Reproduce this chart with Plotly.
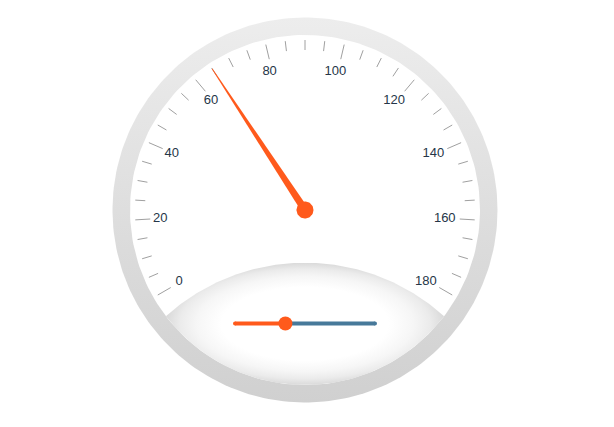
import numpy as np
import plotly.graph_objects as go

# gauge data
scale_min = 0
scale_max = 180
major_unit = 20
minor_unit = 5
needle_value = 65

# small linear gauge in the bottom dial
linear_min = 0
linear_max = 100
linear_value = 36

ORANGE = "#ff5a1c"
BLUE = "#47799a"
TEXT = "#253648"
TICK = "#a0a0a0"

start_angle = 210   # degrees, value = scale_min
sweep = 240


def angle(v):
    return np.radians(start_angle - (v - scale_min) / (scale_max - scale_min) * sweep)


def circle(r, cx=0, cy=0, a0=0, a1=2 * np.pi, n=240):
    t = np.linspace(a0, a1, n)
    return cx + r * np.cos(t), cy + r * np.sin(t)


fig = go.Figure()

# outer ring
x, y = circle(192.5)
fig.add_trace(go.Scatter(x=x, y=y, fill="toself", mode="lines", line=dict(width=0),
                         fillgradient=dict(type="vertical",
                                           colorscale=[[0, "#d0d0d0"], [0.5, "#dedede"], [1, "#ededed"]]),
                         hoverinfo="skip"))
# dial face
x, y = circle(175)
fig.add_trace(go.Scatter(x=x, y=y, fill="toself", mode="lines", line=dict(width=0),
                         fillcolor="white", hoverinfo="skip"))

# lens-shaped bottom area: top arc of a big circle + bottom arc of the face
R_lens, cy_lens = 207.6, -260.3
yi = (cy_lens ** 2 - R_lens ** 2 + 175 ** 2) / (2 * cy_lens)
xi = np.sqrt(175 ** 2 - yi ** 2)
a_top = np.arctan2(yi - cy_lens, xi)
x1, y1 = circle(R_lens, 0, cy_lens, a_top, np.pi - a_top, 120)
a_face = np.arctan2(yi, -xi)
x2, y2 = circle(175, 0, 0, a_face, -np.pi - a_face, 120)
fig.add_trace(go.Scatter(x=np.r_[x1, x2], y=np.r_[y1, y2], fill="toself", mode="lines",
                         line=dict(width=0),
                         fillgradient=dict(type="radial",
                                           colorscale=[[0, "#ffffff"], [0.6, "#ffffff"],
                                                       [0.78, "#f6f6f6"], [0.9, "#ebebeb"],
                                                       [1, "#dadada"]]),
                         hoverinfo="skip"))

# ticks
tx, ty = [], []
for v in np.arange(scale_min, scale_max + minor_unit, minor_unit):
    a = angle(v)
    r0 = 155 if v % major_unit == 0 else 160
    tx += [r0 * np.cos(a), 170 * np.cos(a), None]
    ty += [r0 * np.sin(a), 170 * np.sin(a), None]
fig.add_trace(go.Scatter(x=tx, y=ty, mode="lines", line=dict(color=TICK, width=1), hoverinfo="skip"))

# labels
labels = list(range(scale_min, scale_max + 1, major_unit))
la = angle(np.array(labels))
fig.add_trace(go.Scatter(x=142.5 * np.cos(la) - 2.5, y=142.5 * np.sin(la), mode="text",
                         text=[str(v) for v in labels],
                         textfont=dict(family="Liberation Sans, Arial", size=13, color=TEXT),
                         hoverinfo="skip"))

# needle
a = angle(needle_value)
tip = 169
w = 3.8
px, py = -np.sin(a), np.cos(a)
nx = [tip * np.cos(a) + 0.4 * px, w * px, -w * px, tip * np.cos(a) - 0.4 * px]
ny = [tip * np.sin(a) + 0.4 * py, w * py, -w * py, tip * np.sin(a) - 0.4 * py]
fig.add_trace(go.Scatter(x=nx, y=ny, fill="toself", mode="lines", line=dict(width=0),
                         fillcolor=ORANGE, hoverinfo="skip"))
x, y = circle(8.5, n=60)
fig.add_trace(go.Scatter(x=x, y=y, fill="toself", mode="lines", line=dict(width=0),
                         fillcolor=ORANGE, hoverinfo="skip"))

# linear gauge
lx0, lx1, ly = -70, 70, -113.5
lv = lx0 + (linear_value - linear_min) / (linear_max - linear_min) * (lx1 - lx0)
fig.add_trace(go.Scatter(x=[lv, lx1], y=[ly, ly], mode="lines+markers",
                         line=dict(color=BLUE, width=4), marker=dict(size=4, color=BLUE),
                         hoverinfo="skip"))
fig.add_trace(go.Scatter(x=[lx0, lv], y=[ly, ly], mode="lines+markers",
                         line=dict(color=ORANGE, width=4), marker=dict(size=4, color=ORANGE),
                         hoverinfo="skip"))
fig.add_trace(go.Scatter(x=[lv], y=[ly], mode="markers",
                         marker=dict(size=14, color=ORANGE), hoverinfo="skip"))

# page body has an 8px margin, so the plot area is shifted by that much
fig.update_layout(width=614, height=427, margin=dict(l=0, r=0, t=0, b=0),
                  showlegend=False, plot_bgcolor="white", paper_bgcolor="white",
                  xaxis=dict(range=[-297, 317], visible=False, fixedrange=True),
                  yaxis=dict(range=[-225, 202], visible=False, fixedrange=True))

fig.write_html("out.html")
